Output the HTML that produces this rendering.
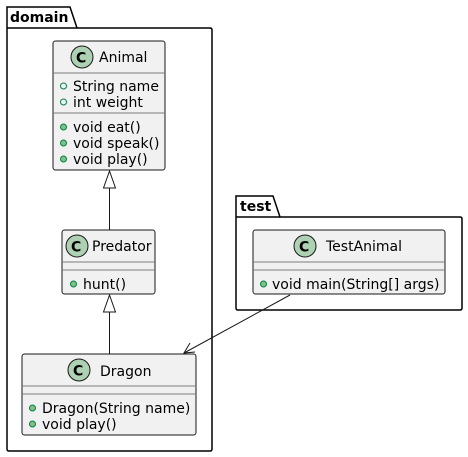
<!DOCTYPE html>
<html><head><style>body{margin:0;background:#fff}svg{display:block}text{font-family:"DejaVu Sans",sans-serif;font-size:14px;fill:#000}</style></head><body>
<svg width="468" height="457" viewBox="0 0 468 457">
<g fill="none" stroke="#000" stroke-width="1.5">
<path d="M7,28 V7 H70 L77,28 H210 Q212,28 212,30 V449 Q212,451 210,451 H9 Q7,451 7,449 Z"/>
<line x1="7" y1="28" x2="77" y2="28"/>
<path d="M236,217 V196 H273 L280,217 H460 Q462,217 462,219 V308 Q462,310 460,310 H238 Q236,310 236,308 Z"/>
<line x1="236" y1="217" x2="280" y2="217"/>
</g>
<text x="10" y="22" style="font-weight:bold;font-size:14px">domain</text>
<text x="240" y="211" style="font-weight:bold;font-size:14px">test</text>
<g stroke="#181818" stroke-width="1" fill="#F1F1F1">
<rect x="53" y="41" width="112" height="129" rx="2.5"/>
<rect x="62" y="230" width="93" height="64" rx="2.5"/>
<rect x="22" y="354" width="174" height="81" rx="2.5"/>
<rect x="253" y="230" width="192" height="64" rx="2.5"/>
</g>
<g stroke="#7a7a7a" stroke-width="1">
<line x1="53" y1="73" x2="165" y2="73"/><line x1="53" y1="113" x2="165" y2="113"/>
<line x1="62" y1="262" x2="155" y2="262"/><line x1="62" y1="270" x2="155" y2="270"/>
<line x1="22" y1="386" x2="196" y2="386"/><line x1="22" y1="394" x2="196" y2="394"/>
<line x1="253" y1="262" x2="445" y2="262"/><line x1="253" y1="270" x2="445" y2="270"/>
</g>
<g fill="#ADD1B2" stroke="#181818" stroke-width="1">
<circle cx="82" cy="57" r="11"/><circle cx="77" cy="246" r="11"/><circle cx="79" cy="370" r="11"/><circle cx="305" cy="246" r="11"/>
</g>
<g style="font-weight:bold;font-size:15px">
<text x="76" y="62.5">C</text><text x="71" y="251.5">C</text><text x="73" y="375.5">C</text><text x="299" y="251.5">C</text>
</g>
<text x="99" y="62">Animal</text>
<text x="92" y="251">Predator</text>
<text x="100" y="376">Dragon</text>
<text x="326" y="251">TestAnimal</text>
<g fill="none" stroke="#038048" stroke-width="1"><circle cx="63.5" cy="86" r="3"/><circle cx="63.5" cy="102" r="3"/></g>
<g fill="#84BE84" stroke="#038048" stroke-width="1">
<circle cx="63.5" cy="127" r="3"/><circle cx="63.5" cy="143" r="3"/><circle cx="63.5" cy="159" r="3"/>
<circle cx="73.5" cy="284" r="3"/>
<circle cx="32.5" cy="408" r="3"/><circle cx="32.5" cy="424" r="3"/>
<circle cx="263.5" cy="284" r="3"/>
</g>
<text x="73" y="91">String name</text>
<text x="73" y="107">int weight</text>
<text x="73" y="132">void eat()</text>
<text x="73" y="148">void speak()</text>
<text x="73" y="164">void play()</text>
<text x="83" y="289">hunt()</text>
<text x="42" y="413">Dragon(String name)</text>
<text x="42" y="429">void play()</text>
<text x="272" y="289">void main(String[] args)</text>
<g stroke="#181818" stroke-width="1" fill="none">
<line x1="109.5" y1="188" x2="109.5" y2="230"/>
<polygon points="109.5,171 103.5,188 115.5,188" fill="#fff"/>
<line x1="109.5" y1="312" x2="109.5" y2="354"/>
<polygon points="109.5,295 103.5,312 115.5,312" fill="#fff"/>
<line x1="290" y1="295" x2="184" y2="353"/>
<polyline points="190,343 184,353 195,352"/>
</g>
</svg>
</body></html>
